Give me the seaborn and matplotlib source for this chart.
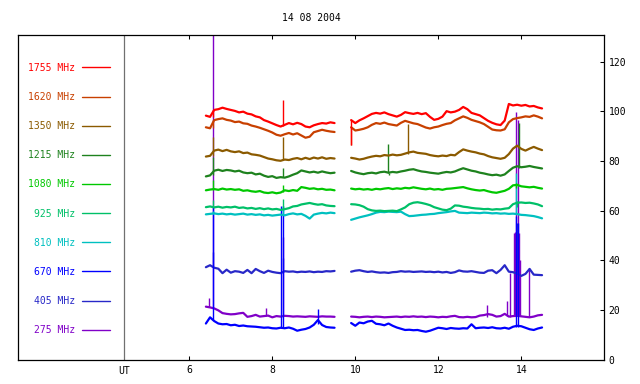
import numpy as np
import matplotlib
matplotlib.use("Agg")
import matplotlib.pyplot as plt
import matplotlib.transforms as mtransforms
import seaborn as sns

# ---------------- data ----------------
title = "14 08 2004"
freq_labels = ["1755 MHz", "1620 MHz", "1350 MHz", "1215 MHz", "1080 MHz",
               "925 MHz", "810 MHz", "670 MHz", "405 MHz", "275 MHz"]
colors = ["#FF0000", "#C84000", "#8B5A00", "#1E821E", "#00C800",
          "#00C068", "#00C0C0", "#0000FF", "#2828C8", "#8000C8"]

x_ticks = [6, 8, 10, 12, 14]
y_ticks = [0, 20, 40, 60, 80, 100, 120]
ut_pos = 4.434

t_seg1 = np.round(np.arange(6.4, 9.55, 0.1), 2)   # 32 samples
t_seg2 = np.round(np.arange(9.9, 14.55, 0.1), 2)  # 47 samples

f1755_a = [98.3, 97.8, 100.6, 100.9, 101.5, 101.0, 100.6, 100.2, 99.6, 99.9, 99.1, 98.8, 98.0, 97.6, 96.5, 95.9,
           95.2, 94.5, 93.9, 94.6, 95.3, 94.8, 95.4, 94.9, 93.9, 93.6, 94.4, 94.9, 95.3, 95.1, 95.6, 95.3]
f1755_b = [96.5, 95.3, 96.4, 97.2, 98.1, 99.0, 99.4, 99.1, 99.6, 98.9, 98.4, 97.9, 98.6, 99.7, 99.3, 99.0,
           99.4, 98.9, 99.3, 97.8, 96.6, 97.0, 97.9, 100.1, 99.6, 99.9, 100.6, 101.8, 100.9, 99.4, 98.9, 98.4,
           97.3, 96.2, 95.4, 94.8, 94.5, 96.3, 103.0, 102.4, 102.7, 102.3, 102.6, 102.0, 102.2, 101.6, 101.2]
f1620_a = [93.6, 93.2, 96.5, 96.9, 97.2, 96.6, 96.3, 95.7, 95.9, 95.2, 95.0, 94.3, 93.9, 93.4, 92.8, 92.2,
           91.5, 90.6, 90.2, 90.8, 91.3, 90.7, 91.2, 90.3, 89.4, 89.8, 91.6, 92.1, 92.6, 92.2, 91.9, 91.7]
f1620_b = [93.6, 92.3, 92.6, 93.0, 93.6, 94.6, 95.3, 95.0, 95.5, 94.9, 94.6, 94.3, 95.4, 96.2, 95.7, 95.2,
           94.9, 94.2, 93.5, 93.1, 93.6, 93.9, 94.5, 95.0, 95.3, 96.4, 97.2, 98.0, 97.4, 96.6, 96.1, 95.6,
           94.9, 93.8, 92.7, 92.4, 92.3, 92.8, 95.6, 96.9, 97.3, 97.6, 98.0, 97.8, 98.4, 97.9, 97.2]
f1350_a = [81.8, 82.1, 84.2, 84.6, 84.0, 84.5, 83.9, 83.6, 83.9, 83.2, 83.4, 82.7, 82.5, 82.2, 81.6, 81.0,
           80.7, 80.3, 80.1, 80.6, 80.4, 80.9, 81.2, 80.7, 81.3, 80.8, 81.4, 81.0, 81.5, 80.9, 81.2, 81.0]
f1350_b = [81.3, 81.0, 80.6, 80.9, 81.4, 81.8, 82.1, 81.9, 82.4, 82.2, 82.6, 82.3, 82.5, 83.0, 83.5, 83.8,
           83.3, 83.1, 82.9, 82.4, 82.1, 81.9, 82.2, 82.0, 82.5, 82.3, 83.6, 84.7, 84.2, 83.8, 83.5, 83.0,
           82.7, 82.0, 81.5, 81.2, 80.9, 81.3, 82.8, 85.0, 86.2, 84.9, 84.2, 85.0, 85.7, 85.0, 84.4]
f1215_a = [73.8, 74.2, 76.1, 76.5, 76.0, 76.4, 76.2, 75.8, 76.1, 75.4, 75.1, 75.3, 74.6, 74.9, 74.1, 73.6,
           73.9, 73.2, 73.5, 73.3, 73.8, 74.5, 75.1, 76.2, 75.8, 75.4, 75.7, 75.3, 75.8, 75.4, 75.1, 75.3]
f1215_b = [76.0, 75.4, 75.0, 74.7, 75.1, 75.3, 75.0, 75.5, 75.7, 75.3, 75.6, 75.4, 75.8, 76.1, 76.5, 76.7,
           76.2, 75.8, 75.6, 75.3, 75.1, 74.9, 75.3, 75.6, 75.4, 75.8, 76.5, 77.1, 76.6, 76.1, 75.8, 75.3,
           75.0, 74.6, 74.3, 74.5, 74.1, 74.6, 76.0, 77.3, 77.9, 77.5, 77.7, 78.0, 77.6, 77.3, 77.0]
f1080_a = [68.2, 68.5, 68.7, 68.4, 68.9, 68.5, 68.7, 68.4, 68.6, 68.0, 68.2, 67.8, 67.6, 67.9, 67.3, 67.1,
           67.4, 67.0, 67.3, 68.2, 67.9, 68.3, 68.0, 69.5, 69.2, 68.8, 69.0, 68.6, 68.8, 68.4, 68.5, 68.2]
f1080_b = [68.9, 68.6, 68.8, 68.5, 68.7, 68.4, 68.8, 68.6, 68.9, 69.1, 68.7, 69.0, 68.8, 69.2, 69.0, 69.4,
           69.1, 68.8, 68.6, 68.9, 68.5, 68.7, 68.4, 68.8, 68.9, 69.1, 69.3, 69.5, 69.0, 68.6, 68.3, 68.1,
           68.3, 67.8, 67.4, 67.2, 67.6, 68.0, 68.8, 70.2, 70.4, 69.8, 69.6, 69.4, 69.6, 69.2, 68.9]
f925_a = [61.4, 61.7, 61.3, 61.6, 61.2, 61.5, 61.3, 61.6, 61.1, 61.3, 60.9, 61.1, 60.7, 61.0, 60.6, 60.9,
          60.5, 60.7, 60.3, 60.6, 61.0, 61.7, 61.9, 62.5, 62.8, 63.1, 62.7, 62.4, 62.6, 62.1, 61.9, 61.8]
f925_b = [62.6, 62.5, 62.2, 61.6, 60.6, 60.1, 59.9, 60.0, 59.8, 59.9, 60.0, 59.8, 60.5, 61.3, 62.6, 63.2,
          63.4, 63.1, 62.7, 62.2, 61.4, 60.9, 60.4, 60.2, 60.8, 62.1, 62.0, 61.6, 61.4, 61.1, 60.9, 60.8,
          60.6, 60.7, 60.4, 60.6, 60.5, 60.8, 61.0, 62.6, 63.2, 63.3, 63.1, 63.2, 62.9, 62.5, 61.8]
f810_a = [58.5, 58.7, 58.9, 58.6, 58.8, 58.5, 58.7, 58.4, 58.6, 58.8, 58.4, 58.6, 58.3, 58.5, 58.1, 58.3,
          58.0, 58.2, 58.4, 58.1, 58.6, 58.9, 58.5, 58.7, 57.9, 56.8, 58.4, 58.8, 59.1, 58.9, 59.2, 59.0]
f810_b = [56.3, 56.8, 57.3, 57.7, 58.1, 58.6, 59.2, 59.5, 59.4, 59.6, 59.5, 59.4, 59.6, 58.6, 57.8, 57.9,
          58.1, 58.3, 58.4, 58.6, 58.7, 59.0, 59.2, 59.4, 59.7, 59.9, 59.2, 59.1, 59.0, 59.2, 59.1, 59.0,
          59.2, 59.1, 58.9, 59.0, 58.8, 58.9, 58.7, 58.8, 58.6, 58.3, 58.2, 58.0, 57.8, 57.4, 56.9]
f670_a = [14.5, 17.0, 15.5, 14.5, 14.2, 14.3, 13.8, 14.0, 13.5, 13.7, 13.4, 13.3, 13.2, 13.0, 12.8, 12.9,
          12.6, 12.5, 12.8, 12.6, 12.9, 12.4, 11.6, 12.0, 12.3, 12.9, 14.0, 15.9, 13.9, 13.1, 12.9, 12.8]
f670_b = [14.7, 13.6, 14.9, 14.6, 15.3, 15.6, 14.4, 14.2, 13.8, 14.5, 13.6, 12.9, 12.4, 11.9, 12.0, 11.8,
          11.9, 11.5, 11.2, 11.6, 12.2, 12.8, 12.6, 12.3, 12.7, 12.5, 12.4, 12.6, 12.5, 14.2, 12.6, 12.8,
          12.9, 12.7, 13.0, 12.6, 12.5, 12.8, 12.4, 13.2, 13.6, 13.4, 12.8, 12.2, 11.9, 12.5, 12.9]
f405_a = [37.2, 38.0, 37.0, 36.6, 34.8, 36.2, 35.0, 35.6, 35.4, 34.9, 36.1, 34.8, 36.5, 35.6, 34.9, 35.8,
          35.3, 35.0, 34.8, 35.6, 35.4, 35.5, 35.2, 35.4, 35.3, 35.5, 35.2, 35.4, 35.3, 35.6, 35.5, 35.7]
f405_b = [35.4, 35.8, 36.0, 35.6, 35.3, 35.5, 35.2, 35.0, 35.1, 34.9, 35.2, 35.3, 35.6, 35.4, 35.5, 35.3,
          35.4, 35.5, 35.3, 35.4, 35.2, 35.4, 35.1, 35.3, 34.9, 35.2, 35.9, 35.5, 35.4, 35.6, 35.3, 35.0,
          34.9, 35.8, 36.0, 34.8, 36.1, 38.0, 35.4, 35.2, 34.6, 33.7, 34.5, 36.5, 34.2, 34.1, 34.0]
f275_a = [21.3, 21.0, 20.6, 19.8, 18.7, 18.4, 18.2, 18.3, 18.6, 18.8, 17.2, 17.5, 18.0, 17.3, 17.5, 17.7,
          17.0, 17.5, 17.3, 17.6, 17.5, 17.3, 17.4, 17.3, 17.2, 17.4, 17.3, 17.2, 17.4, 17.3, 17.3, 17.2]
f275_b = [17.3, 17.2, 17.0, 17.2, 17.3, 17.1, 17.3, 17.2, 17.0, 17.1, 17.2, 17.3, 17.1, 17.3, 17.2, 17.4,
          17.2, 17.3, 17.1, 17.3, 17.2, 17.0, 17.2, 17.1, 17.4, 17.6, 17.1, 17.0, 17.2, 17.0, 17.1, 17.7,
          17.9, 18.3, 18.0, 17.3, 17.5, 18.4, 17.3, 17.5, 17.6, 17.4, 17.2, 17.0, 17.3, 17.8, 18.0]

# short bursts: (time, base level, peak level)
spk1755 = [(6.56, 97.9, 100.6), (8.27, 94.0, 104.8), (9.9, 96.5, 86.5)]
spk1620 = [(6.56, 93.3, 96.5), (9.9, 93.6, 86.4)]
spk1350 = [(6.56, 82.0, 89.6), (8.27, 80.3, 89.7), (11.26, 82.8, 95.1)]
spk1215 = [(6.56, 74.2, 81.5), (8.27, 73.4, 77.0), (10.8, 75.3, 87.0), (10.81, 75.3, 74.3), (13.95, 77.2, 95.5)]
spk1080 = [(6.56, 68.5, 72.3), (8.27, 67.5, 70.5), (13.88, 69.0, 71.0)]
spk925 = [(6.56, 61.5, 64.2), (8.27, 60.6, 64.5), (13.9, 61.5, 64.0)]
spk810 = [(6.56, 58.6, 60.0), (8.27, 58.3, 62.0), (13.88, 58.8, 75.0)]
spk670 = [(6.56, 16.0, 62.0), (8.20, 12.8, 62.0), (8.27, 12.6, 62.0), (9.1, 14.5, 20.2),
          (13.88, 13.0, 58.0), (13.91, 13.0, 55.0)]
spk405 = [(6.56, 37.5, 43.4), (8.27, 35.4, 40.9), (13.89, 35.2, 55.0)]
spk275 = [(6.47, 21.0, 24.6), (6.56, 20.8, 135.0), (7.86, 17.6, 20.6), (8.25, 17.5, 49.5),
          (13.17, 17.2, 22.0), (13.65, 17.5, 23.5), (13.73, 17.3, 35.0),
          (13.83, 17.5, 51.0), (13.845, 17.5, 48.0), (13.86, 17.5, 51.5), (13.87, 17.5, 99.8),
          (13.88, 17.5, 50.0), (13.895, 17.5, 51.5), (13.91, 17.5, 49.0), (13.93, 17.5, 96.4),
          (13.945, 17.5, 51.0), (13.96, 17.5, 40.0), (14.19, 17.2, 36.8)]

series_a = [f1755_a, f1620_a, f1350_a, f1215_a, f1080_a, f925_a, f810_a, f670_a, f405_a, f275_a]
series_b = [f1755_b, f1620_b, f1350_b, f1215_b, f1080_b, f925_b, f810_b, f670_b, f405_b, f275_b]
spikes = [spk1755, spk1620, spk1350, spk1215, spk1080, spk925, spk810, spk670, spk405, spk275]

# ---------------- plot ----------------
sns.set_theme(style="white")
plt.rcParams["font.family"] = ["DejaVu Sans Mono"]
fs = 7

W, H = 640, 384
fig = plt.figure(figsize=(W / 100, H / 100), dpi=100)
ax = fig.add_axes([18.3 / W, (H - 359.5) / H, (604.3 - 18.3) / W, (359.5 - 35) / H])

lw = 1.6
handles = [None] * 10
for i in reversed(range(10)):
    for j, (t, v) in enumerate([(t_seg1, series_a[i]), (t_seg2, series_b[i])]):
        sns.lineplot(x=list(t), y=v, sort=False, estimator=None, color=colors[i],
                     linewidth=lw, ax=ax)
        if j == 0:
            handles[i] = ax.lines[-1]
    st = [s[0] for s in spikes[i]]
    sb = [s[1] for s in spikes[i]]
    sp = [s[2] for s in spikes[i]]
    ax.vlines(st, sb, sp, colors=colors[i], linewidth=1.0)

ax.axvline(ut_pos, color="#707070", linewidth=0.9, zorder=0)

ax.set_xlim(1.88, 16.0)
ax.set_ylim(0, 130.8)
ax.set_xticks(x_ticks)
ax.set_xticklabels([str(v) for v in x_ticks])
ax.set_yticks(y_ticks)
ax.set_yticklabels([str(v) for v in y_ticks])
ax.yaxis.tick_right()
ax.tick_params(axis="x", which="major", direction="in", length=3, width=0.75,
               color="black", bottom=True, top=True, labelsize=fs, pad=4, labelcolor="black")
ax.tick_params(axis="y", which="major", direction="in", length=3, width=0.75,
               color="black", left=False, right=True, labelsize=fs, pad=3, labelcolor="black")
ax.set_xlabel("")
ax.set_ylabel("")
for s in ax.spines.values():
    s.set_color("black")
    s.set_linewidth(0.9)
ax.grid(False)

trans = mtransforms.blended_transform_factory(ax.transData, ax.transAxes)
ax.text(ut_pos, -0.02, "UT", transform=trans, ha="center", va="top", fontsize=fs, color="black")

fig.text(311.3 / W, 1 - 18 / H, title, ha="center", va="center", fontsize=fs, color="black")

leg = ax.legend(handles, freq_labels, loc="upper right",
                bbox_to_anchor=(110 / W, 1 - 62.8 / H), bbox_transform=fig.transFigure,
                markerfirst=False, frameon=False, handlelength=2.85, handletextpad=0.72,
                labelspacing=1.97, borderpad=0, borderaxespad=0, labelcolor="linecolor",
                prop={"family": "DejaVu Sans Mono", "size": fs})
for h in leg.legend_handles:
    h.set_linewidth(1.0)

fig.savefig("out.png", dpi=100)
